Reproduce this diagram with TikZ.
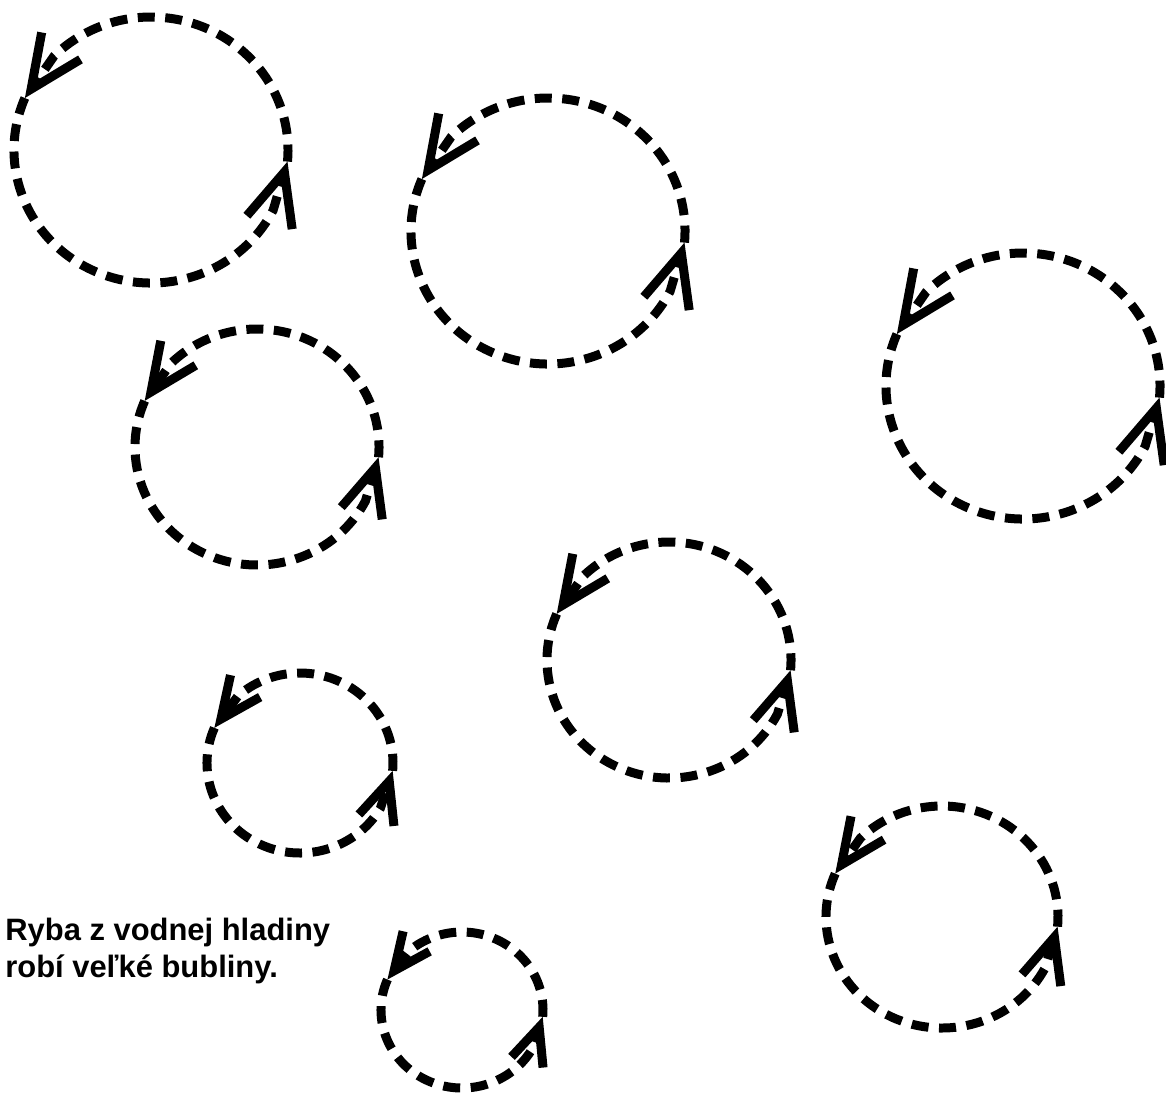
\documentclass[tikz,border=0pt]{standalone}
\usepackage{fontspec}
\setmainfont{Liberation Sans}
\usetikzlibrary{arrows.meta}
\tikzset{bubble/.style={line width=0.18cm,dash pattern=on 0.34cm off 0.21cm}}

\begin{document}
\begin{tikzpicture}[x=0.02cm,y=-0.02cm]
  \useasboundingbox (0,0) rectangle (1166,1092);
  % bubbles: centre, radii, arrow length (cm)
  \foreach \cx/\cy/\rx/\ry/\al in {151/150/137/133/1.05, 548/231/137/133/1.05,
      1023/386/137/133/1.05, 257/447/122/118/0.95, 669/660/122/118/0.95,
      300/763/93/90/0.82, 942/917/116/111/0.9, 462/1010/81/78/0.74}{
    \pgfmathsetmacro\aw{0.9*\al}
    \pgfmathsetmacro\da{\al*50/\rx*57.3}
    \draw[bubble,-{Straight Barb[length=\al cm,width=\aw cm]}]
      (\cx,\cy) ++({\rx*cos(5)},{\ry*sin(5)})
      arc[start angle=5,end angle=-157+\da,x radius=\rx,y radius=\ry]
      -- ({\cx+\rx*cos(-157)},{\cy+\ry*sin(-157)});
    \draw[bubble,-{Straight Barb[length=\al cm,width=\aw cm]}]
      (\cx,\cy) ++({\rx*cos(203)},{\ry*sin(203)})
      arc[start angle=203,end angle=5+\da,x radius=\rx,y radius=\ry]
      -- ({\cx+\rx*cos(5)},{\cy+\ry*sin(5)});
  }
  \node[anchor=base west,inner sep=0pt,align=left,
    font=\bfseries\fontsize{17.6pt}{20.5pt}\selectfont] (caption) at (5,977)
    {Ryba z vodnej hladiny\\robí veľké bubliny.};
\end{tikzpicture}
\end{document}
